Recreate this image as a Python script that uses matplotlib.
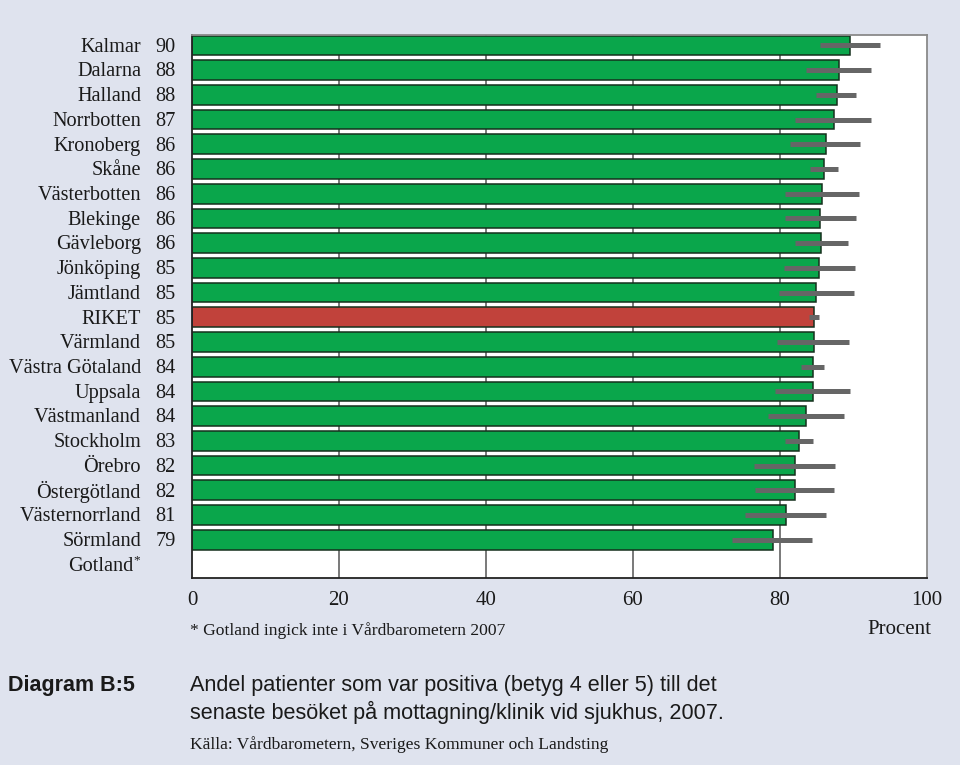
import matplotlib.pyplot as plt
from matplotlib.transforms import blended_transform_factory

# data
regions = ["Kalmar", "Dalarna", "Halland", "Norrbotten", "Kronoberg", "Skåne",
           "Västerbotten", "Blekinge", "Gävleborg", "Jönköping", "Jämtland",
           "RIKET", "Värmland", "Västra Götaland", "Uppsala", "Västmanland",
           "Stockholm", "Örebro", "Östergötland", "Västernorrland", "Sörmland"]
value_labels = [90, 88, 88, 87, 86, 86, 86, 86, 86, 85, 85, 85, 85, 84, 84,
                84, 83, 82, 82, 81, 79]
values = [89.5, 88.0, 87.7, 87.3, 86.2, 86.0, 85.75, 85.5, 85.6, 85.3, 84.9,
          84.6, 84.6, 84.45, 84.45, 83.6, 82.6, 82.0, 82.0, 80.8, 79.0]
err_lo = [85.4, 83.5, 84.9, 82.1, 81.4, 84.1, 80.7, 80.7, 82.0, 80.5, 79.8,
          84.0, 79.6, 82.9, 79.3, 78.4, 80.7, 76.5, 76.6, 75.2, 73.5]
err_hi = [93.6, 92.45, 90.4, 92.45, 90.95, 87.9, 90.7, 90.4, 89.2, 90.2, 90.1,
          85.3, 89.4, 86.0, 89.5, 88.7, 84.5, 87.5, 87.4, 86.3, 84.4]
xticks = [0, 20, 40, 60, 80, 100]

BG = "#dfe3ee"
GREEN = "#0aa64b"
RED = "#c1423b"
serif = "Liberation Serif"
sans = "Liberation Sans"
FS = 14.6

fig = plt.figure(figsize=(9.6, 7.65), dpi=100, facecolor=BG)
ax = fig.add_axes([0.2, 0.2444, 0.7656, 0.7098])
ax.set_facecolor("white")

ypos = list(range(len(regions)))
colors = [RED if r == "RIKET" else GREEN for r in regions]

# vertical grid behind the bars
for t in xticks[1:-1]:
    ax.axvline(t, color="#6e6e6e", lw=1.3, zorder=0)

ax.barh(ypos, values, height=0.8, color=colors, edgecolor="#15301d",
        linewidth=1.1, zorder=2)
ax.hlines(ypos, err_lo, err_hi, color="#666666", lw=3.6, zorder=3)

ax.set_xlim(0, 100)
ax.set_ylim(21.55, -0.42)
ax.set_yticks([])
ax.set_xticks(xticks)
ax.set_xticklabels([str(t) for t in xticks], fontfamily=serif, fontsize=15)
ax.tick_params(axis="x", length=0, pad=9, colors="#1a1a1a")

for side in ["left", "bottom"]:
    ax.spines[side].set_color("#222222")
    ax.spines[side].set_linewidth(1.3)
for side in ["top", "right"]:
    ax.spines[side].set_color("#8a8a8a")
    ax.spines[side].set_linewidth(1.3)

# region names and values to the left
tr = blended_transform_factory(ax.transAxes, ax.transData)
for i, (name, v) in enumerate(zip(regions, value_labels)):
    ax.text(-0.0694, i + 0.07, name, transform=tr, ha="right", va="center",
            fontfamily=serif, fontsize=FS, color="#1a1a1a", clip_on=False)
    ax.text(-0.0218, i + 0.07, str(v), transform=tr, ha="right", va="center",
            fontfamily=serif, fontsize=FS, color="#1a1a1a", clip_on=False)

# Gotland, no data
g = len(regions)
ax.text(-0.0803, g + 0.07, "Gotland", transform=tr, ha="right", va="center",
        fontfamily=serif, fontsize=FS, color="#1a1a1a", clip_on=False)
ax.text(-0.0796, g - 0.15, "*", transform=tr, ha="left", va="center",
        fontfamily=serif, fontsize=9.5, color="#1a1a1a", clip_on=False)

# footnote and unit
fig.text(190 / 960, 1 - 631 / 765, "* Gotland ingick inte i Vårdbarometern 2007",
         fontfamily=serif, fontsize=12.6, color="#1a1a1a", va="center", ha="left")
fig.text(931 / 960, 1 - 630 / 765, "Procent", fontfamily=serif, fontsize=15,
         color="#1a1a1a", va="center", ha="right")

# caption block
fig.text(8 / 960, 1 - 686 / 765, "Diagram B:5", fontfamily=sans, fontsize=15.5,
         fontweight="bold", color="#1a1a1a", va="center", ha="left")
fig.text(190 / 960, 1 - 686 / 765,
         "Andel patienter som var positiva (betyg 4 eller 5) till det",
         fontfamily=sans, fontsize=15.6, color="#1a1a1a", va="center", ha="left")
fig.text(190 / 960, 1 - 712 / 765,
         "senaste besöket på mottagning/klinik vid sjukhus, 2007.",
         fontfamily=sans, fontsize=15.6, color="#1a1a1a", va="center", ha="left")
fig.text(190 / 960, 1 - 745 / 765,
         "Källa: Vårdbarometern, Sveriges Kommuner och Landsting",
         fontfamily=serif, fontsize=12.6, color="#1a1a1a", va="center", ha="left")

fig.savefig("out.png", dpi=100, facecolor=BG)
